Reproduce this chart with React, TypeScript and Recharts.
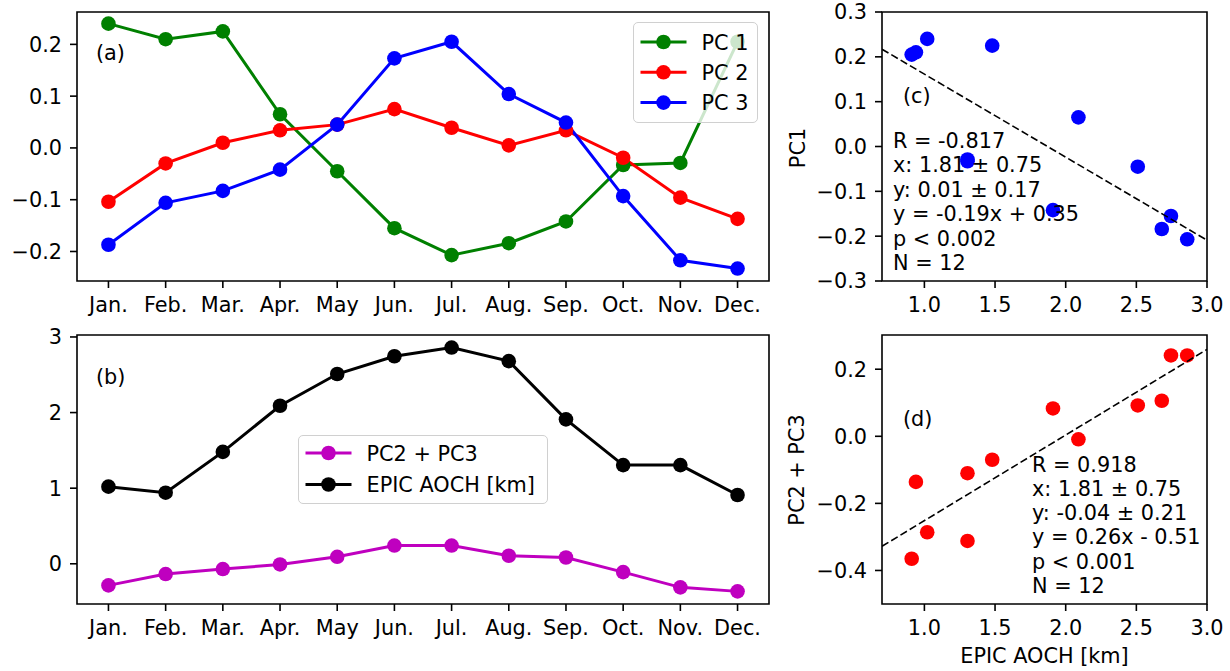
import React from 'react';
import { LineChart, Line, XAxis, YAxis, Legend, ReferenceArea, ScatterChart, Scatter } from 'recharts';

const months = ['Jan.', 'Feb.', 'Mar.', 'Apr.', 'May', 'Jun.', 'Jul.', 'Aug.', 'Sep.', 'Oct.', 'Nov.', 'Dec.'];
const pc1 = [0.240, 0.210, 0.225, 0.065, -0.045, -0.155, -0.207, -0.184, -0.142, -0.033, -0.029, 0.205];
const pc2 = [-0.104, -0.030, 0.010, 0.034, 0.045, 0.075, 0.039, 0.005, 0.034, -0.019, -0.096, -0.137];
const pc3 = [-0.187, -0.106, -0.083, -0.042, 0.045, 0.173, 0.205, 0.104, 0.049, -0.093, -0.217, -0.233];
const pc23 = [-0.286, -0.136, -0.070, -0.009, 0.092, 0.241, 0.241, 0.106, 0.083, -0.110, -0.312, -0.365];
const aoch = [1.02, 0.94, 1.48, 2.09, 2.51, 2.745, 2.86, 2.68, 1.91, 1.305, 1.305, 0.91];

const fitC = [{ x: 0.7, y: 0.217 }, { x: 3.0, y: -0.209 }];
const fitD = [{ x: 0.7, y: -0.328 }, { x: 3.0, y: 0.259 }];

const statsC = ['R = -0.817', 'x: 1.81 \u00b1 0.75', 'y: 0.01 \u00b1 0.17', 'y = -0.19x + 0.35', 'p < 0.002', 'N = 12'];
const statsD = ['R = 0.918', 'x: 1.81 \u00b1 0.75', 'y: -0.04 \u00b1 0.21', 'y = 0.26x - 0.51', 'p < 0.001', 'N = 12'];

const legendA = ['PC 1', 'PC 2', 'PC 3'];
const legendB = ['PC2 + PC3', 'EPIC AOCH [km]'];

const monthTicks = [0, 1, 2, 3, 4, 5, 6, 7, 8, 9, 10, 11];
const ticksA = [-0.2, -0.1, 0, 0.1, 0.2];
const ticksB = [0, 1, 2, 3];
const ticksC = [-0.3, -0.2, -0.1, 0, 0.1, 0.2, 0.3];
const ticksD = [-0.4, -0.2, 0, 0.2];
const ticksX = [1.0, 1.5, 2.0, 2.5, 3.0];

const GREEN = '#008000';
const RED = '#ff0000';
const BLUE = '#0000ff';
const MAGENTA = '#bf00bf';
const BLACK = '#000000';

const FONT = 'DejaVu Sans';
const FS = 20.8;
const LW = 3;
const MR = 7.3;
const SPINE = 1.6;
const TXT: React.CSSProperties = { fontSize: FS, fontFamily: FONT, fill: '#000' };

const fmt1 = (v: number) => (v < 0 ? '\u2212' : '') + Math.abs(v).toFixed(1);
const fmt0 = (v: number) => (v < 0 ? '\u2212' : '') + String(Math.abs(v));
const fmtMonth = (v: number) => months[v];

const xTick = (fmt: (v: number) => string) => (p: any) => (
  <text x={p.x} y={p.y} dy="0.71em" textAnchor="middle" style={TXT}>{fmt(p.payload.value)}</text>
);
const yTick = (fmt: (v: number) => string) => (p: any) => (
  <text x={p.x} y={p.y} dy="0.355em" textAnchor="end" style={TXT}>{fmt(p.payload.value)}</text>
);
const tickLine = { stroke: '#000', strokeWidth: SPINE };

const lineData = months.map((_, i) => ({
  m: i,
  pc1: pc1[i],
  pc2: pc2[i],
  pc3: pc3[i],
  pc23: pc23[i],
  aoch: aoch[i],
}));
const scatterC = aoch.map((x, i) => ({ x, y: pc1[i] }));
const scatterD = aoch.map((x, i) => ({ x, y: pc23[i] }));

const domA: [number, number] = [-0.257, 0.2625];
const domB: [number, number] = [-0.532, 3.026];
const domC: [number, number] = [-0.3, 0.3];
const domD: [number, number] = [-0.5, 0.302];
const domM: [number, number] = [-0.55, 11.55];
const domX: [number, number] = [0.7, 3.0];

const LegendBox = (props: any) => {
  const { payload, order, width, height, rowTop, rowGap } = props;
  const items = order
    .map((name: string) => (payload || []).find((it: any) => it.value === name))
    .filter(Boolean);
  return (
    <div
      style={{
        width,
        height,
        boxSizing: 'border-box',
        border: '1.5px solid #d0d0d0',
        borderRadius: 5,
        background: 'rgba(255,255,255,0.8)',
        position: 'relative',
      }}
    >
      <svg width={width} height={height} style={{ position: 'absolute', left: -1.5, top: -1.5 }}>
        {items.map((it: any, i: number) => {
          const y = rowTop + i * rowGap;
          return (
            <g key={i}>
              <line x1={7.5} x2={53.5} y1={y} y2={y} stroke={it.color} strokeWidth={LW} />
              <circle cx={30.5} cy={y} r={MR} fill={it.color} />
              <text x={68.5} y={y + 7.5} style={TXT}>
                {it.value}
              </text>
            </g>
          );
        })}
      </svg>
    </div>
  );
};

const dot = (c: string) => ({ r: MR, fill: c, stroke: c, strokeWidth: 0 });

const circleShape = (c: string) => (p: any) => <circle cx={p.cx} cy={p.cy} r={MR} fill={c} />;
const noShape = () => <g />;

export default function App() {
  return (
    <div style={{ position: 'absolute', left: 0, top: 0, width: 1230, height: 671, background: '#fff', fontFamily: FONT }}>
      {/* (a) */}
      <div style={{ position: 'absolute', left: 0, top: 0 }}>
        <LineChart width={780} height={320} data={lineData} margin={{ top: 12, right: 11, bottom: 0, left: 0 }}>
          <XAxis type="number" dataKey="m" domain={domM} ticks={monthTicks} interval={0} allowDataOverflow
            height={39} tick={xTick(fmtMonth)} tickLine={tickLine} tickSize={7} tickMargin={9} axisLine={false} />
          <YAxis type="number" domain={domA} ticks={ticksA} interval={0} allowDataOverflow width={77}
            tick={yTick(fmt1)} tickLine={tickLine} tickSize={7} tickMargin={8} axisLine={false} />
          <Line name="PC 1" dataKey="pc1" stroke={GREEN} strokeWidth={LW} dot={dot(GREEN)} activeDot={false} isAnimationActive={false} />
          <Line name="PC 2" dataKey="pc2" stroke={RED} strokeWidth={LW} dot={dot(RED)} activeDot={false} isAnimationActive={false} />
          <Line name="PC 3" dataKey="pc3" stroke={BLUE} strokeWidth={LW} dot={dot(BLUE)} activeDot={false} isAnimationActive={false} />
          <ReferenceArea x1={domM[0]} x2={domM[1]} y1={domA[0]} y2={domA[1]} fill="none" fillOpacity={0} stroke="#000" strokeWidth={SPINE} />
          <Legend layout="horizontal" verticalAlign="middle" align="center"
            wrapperStyle={{ left: 633, top: 22, width: 125, height: 101, margin: 0, padding: 0 }}
            content={(p: any) => <LegendBox payload={p.payload} order={legendA} width={125} height={101} rowTop={20} rowGap={30.3} />} />
        </LineChart>
      </div>

      {/* (b) */}
      <div style={{ position: 'absolute', left: 0, top: 320 }}>
        <LineChart width={780} height={324} data={lineData} margin={{ top: 15, right: 11, bottom: 0, left: 0 }}>
          <XAxis type="number" dataKey="m" domain={domM} ticks={monthTicks} interval={0} allowDataOverflow
            height={40} tick={xTick(fmtMonth)} tickLine={tickLine} tickSize={7} tickMargin={9} axisLine={false} />
          <YAxis type="number" domain={domB} ticks={ticksB} interval={0} allowDataOverflow width={77}
            tick={yTick(fmt0)} tickLine={tickLine} tickSize={7} tickMargin={8} axisLine={false} />
          <Line name="PC2 + PC3" dataKey="pc23" stroke={MAGENTA} strokeWidth={LW} dot={dot(MAGENTA)} activeDot={false} isAnimationActive={false} />
          <Line name="EPIC AOCH [km]" dataKey="aoch" stroke={BLACK} strokeWidth={LW} dot={dot(BLACK)} activeDot={false} isAnimationActive={false} />
          <ReferenceArea x1={domM[0]} x2={domM[1]} y1={domB[0]} y2={domB[1]} fill="none" fillOpacity={0} stroke="#000" strokeWidth={SPINE} />
          <Legend layout="horizontal" verticalAlign="middle" align="center"
            wrapperStyle={{ left: 298, top: 115, width: 250, height: 69, margin: 0, padding: 0 }}
            content={(p: any) => <LegendBox payload={p.payload} order={legendB} width={250} height={69} rowTop={18} rowGap={31.5} />} />
        </LineChart>
      </div>

      {/* (c) */}
      <div style={{ position: 'absolute', left: 780, top: 0 }}>
        <ScatterChart width={450} height={320} margin={{ top: 12, right: 23, bottom: 0, left: 0 }}>
          <XAxis type="number" dataKey="x" domain={domX} ticks={ticksX} interval={0} allowDataOverflow
            height={39} tick={xTick(fmt1)} tickLine={tickLine} tickSize={7} tickMargin={9} axisLine={false} />
          <YAxis type="number" dataKey="y" domain={domC} ticks={ticksC} interval={0} allowDataOverflow width={102}
            tick={yTick(fmt1)} tickLine={tickLine} tickSize={7} tickMargin={8} axisLine={false} />
          <Scatter data={scatterC} shape={circleShape(BLUE)} isAnimationActive={false} />
          <Scatter data={fitC} shape={noShape} line={{ stroke: '#000', strokeWidth: 1.6, strokeDasharray: '7.5 3.3' }} isAnimationActive={false} />
          <ReferenceArea x1={domX[0]} x2={domX[1]} y1={domC[0]} y2={domC[1]} fill="none" fillOpacity={0} stroke="#000" strokeWidth={SPINE} />
        </ScatterChart>
      </div>

      {/* (d) */}
      <div style={{ position: 'absolute', left: 780, top: 320 }}>
        <ScatterChart width={450} height={324} margin={{ top: 15, right: 23, bottom: 0, left: 0 }}>
          <XAxis type="number" dataKey="x" domain={domX} ticks={ticksX} interval={0} allowDataOverflow
            height={40} tick={xTick(fmt1)} tickLine={tickLine} tickSize={7} tickMargin={9} axisLine={false} />
          <YAxis type="number" dataKey="y" domain={domD} ticks={ticksD} interval={0} allowDataOverflow width={102}
            tick={yTick(fmt1)} tickLine={tickLine} tickSize={7} tickMargin={8} axisLine={false} />
          <Scatter data={scatterD} shape={circleShape(RED)} isAnimationActive={false} />
          <Scatter data={fitD} shape={noShape} line={{ stroke: '#000', strokeWidth: 1.6, strokeDasharray: '7.5 3.3' }} isAnimationActive={false} />
          <ReferenceArea x1={domX[0]} x2={domX[1]} y1={domD[0]} y2={domD[1]} fill="none" fillOpacity={0} stroke="#000" strokeWidth={SPINE} />
        </ScatterChart>
      </div>

      {/* annotations */}
      <svg width={1230} height={671} style={{ position: 'absolute', left: 0, top: 0, pointerEvents: 'none' }}>
        <text x={96} y={60} style={TXT}>(a)</text>
        <text x={96} y={384} style={TXT}>(b)</text>
        <text x={903} y={103} style={TXT}>(c)</text>
        <text x={903} y={426} style={TXT}>(d)</text>
        {statsC.map((s, i) => (
          <text key={'c' + i} x={893} y={148 + i * 24.4} style={TXT}>{s}</text>
        ))}
        {statsD.map((s, i) => (
          <text key={'d' + i} x={1032} y={471.7 + i * 24.2} style={TXT}>{s}</text>
        ))}
        <text x={805} y={148} textAnchor="middle" transform="rotate(-90 805 148)" style={TXT}>PC1</text>
        <text x={803.5} y={470} textAnchor="middle" transform="rotate(-90 803.5 470)" style={TXT}>PC2 + PC3</text>
        <text x={1044.5} y={663} textAnchor="middle" style={TXT}>EPIC AOCH [km]</text>
      </svg>
    </div>
  );
}
